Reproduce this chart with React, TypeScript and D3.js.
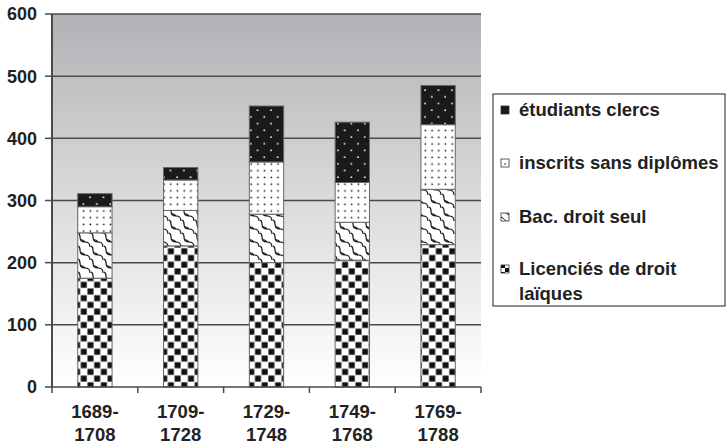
import React from "react";
import * as d3 from "d3";

const periods = ["1689-1708", "1709-1728", "1729-1748", "1749-1768", "1769-1788"];
const licencies = [175, 227, 200, 204, 229];
const bacSeul = [73, 57, 78, 61, 89];
const inscrits = [42, 49, 84, 64, 104];
const clercs = [21, 20, 90, 97, 63];
const yTicks = [0, 100, 200, 300, 400, 500, 600];

const seriesNames = ["Licenciés de droit laïques", "Bac. droit seul", "inscrits sans diplômes", "étudiants clercs"];
const seriesKeys = ["lic", "bac", "ins", "cle"];

const W = 726;
const H = 444;
const left = 52;
const right = 481;
const top = 14;
const bottom = 387;

export default function App() {
  const rows = periods.map((p, i) => ({
    period: p,
    lic: licencies[i],
    bac: bacSeul[i],
    ins: inscrits[i],
    cle: clercs[i],
  }));
  const stacked = d3.stack<any>().keys(seriesKeys)(rows);

  const x = d3.scaleBand().domain(periods).range([left, right]).paddingInner(0.6).paddingOuter(0.3);
  const cat = d3.scaleBand().domain(periods).range([left, right]).padding(0);
  const y = d3.scaleLinear().domain([0, 600]).range([bottom, top]);

  const fills: Record<string, string> = {
    lic: "url(#checker)",
    bac: "url(#wave)",
    ins: "url(#dots)",
    cle: "url(#darkdots)",
  };
  const legFills: Record<string, string> = {
    lic: "url(#legChecker)",
    bac: "url(#legWave)",
    ins: "url(#legDots)",
    cle: "url(#legDark)",
  };

  const font = "'Liberation Sans', Arial, sans-serif";
  const legendItems = [...seriesKeys].reverse().map((k) => ({
    key: k,
    name: seriesNames[seriesKeys.indexOf(k)],
  }));
  const legendY = [110, 163, 217, 269];

  return (
    <svg width={W} height={H} style={{ position: "absolute", left: 0, top: 0, background: "#fff" }} fontFamily={font}>
      <defs>
        <linearGradient id="bg" x1="0" y1="0" x2="0" y2="1">
          <stop offset="0" stopColor="#b1b2b5" />
          <stop offset="0.5" stopColor="#dadbdc" />
          <stop offset="1" stopColor="#ffffff" />
        </linearGradient>
        <pattern id="checker" width="13.4" height="13.4" patternUnits="userSpaceOnUse">
          <rect width="13.4" height="13.4" fill="#fff" />
          <rect x="0.4" y="0.4" width="6" height="6" fill="#111" />
          <rect x="7.1" y="7.1" width="6" height="6" fill="#111" />
        </pattern>
        <pattern id="wave" width="13" height="13" patternUnits="userSpaceOnUse">
          <rect width="13" height="13" fill="#fff" />
          <path d="M-3,-1 Q2,-2 2,3 T7,8 T12,13 T17,18" fill="none" stroke="#111" strokeWidth="1.2" />
          <path d="M10,-1 Q15,-2 15,3" fill="none" stroke="#111" strokeWidth="1.2" />
          <path d="M-3,12 Q2,11 2,16" fill="none" stroke="#111" strokeWidth="1.2" />
          <path d="M2,6 Q5,5 7,8" fill="none" stroke="#111" strokeWidth="1.2" />
        </pattern>
        <pattern id="dots" width="6.7" height="6.7" patternUnits="userSpaceOnUse">
          <rect width="6.7" height="6.7" fill="#fff" />
          <circle cx="3.3" cy="3.3" r="0.85" fill="#111" />
        </pattern>
        <pattern id="darkdots" width="13.4" height="13.4" patternUnits="userSpaceOnUse">
          <rect width="13.4" height="13.4" fill="#1a1a1a" />
          <circle cx="3" cy="3" r="0.9" fill="#fff" />
          <circle cx="9.7" cy="9.7" r="0.9" fill="#fff" />
        </pattern>
        <pattern id="legChecker" x="501" width="8" height="8" patternUnits="userSpaceOnUse">
          <rect width="8" height="8" fill="#fff" />
          <rect width="4" height="4" fill="#111" />
          <rect x="4" y="4" width="4" height="4" fill="#111" />
        </pattern>
        <pattern id="legWave" x="501" width="8" height="8" patternUnits="userSpaceOnUse">
          <rect width="8" height="8" fill="#fff" />
          <path d="M0,1 C3,2 4,5 8,7" fill="none" stroke="#111" strokeWidth="1" />
        </pattern>
        <pattern id="legDots" x="501" width="8" height="8" patternUnits="userSpaceOnUse">
          <rect width="8" height="8" fill="#fff" />
          <circle cx="4" cy="4" r="0.8" fill="#111" />
        </pattern>
        <pattern id="legDark" x="501" width="8" height="8" patternUnits="userSpaceOnUse">
          <rect width="8" height="8" fill="#1a1a1a" />
        </pattern>
      </defs>

      {/* plot background */}
      <rect x={left} y={top} width={right - left} height={bottom - top} fill="url(#bg)" />

      {/* grid lines */}
      {yTicks.map((t) => (
        <g key={t}>
          {t > 0 && <line x1={left} x2={right} y1={y(t)} y2={y(t)} stroke="#4a4a4a" strokeWidth={1.5} />}
          <line x1={left - 7} x2={left} y1={y(t)} y2={y(t)} stroke="#4a4a4a" strokeWidth={1.5} />
          <text x={37} y={y(t)} dy="0.36em" textAnchor="end" fontSize={18} fontWeight="bold" fill="#222">
            {t}
          </text>
        </g>
      ))}

      {/* bars */}
      {stacked.map((s) => (
        <g key={s.key}>
          {s.map((d, i) => (
            <rect
              key={i}
              x={x(periods[i])}
              y={y(d[1])}
              width={x.bandwidth()}
              height={y(d[0]) - y(d[1])}
              fill={fills[s.key]}
              stroke="#666"
              strokeWidth={1}
            />
          ))}
        </g>
      ))}

      {/* axes */}
      <line x1={left} x2={left} y1={top} y2={bottom} stroke="#4a4a4a" strokeWidth={2} />
      <line x1={left} x2={right} y1={bottom} y2={bottom} stroke="#4a4a4a" strokeWidth={1.5} />
      {[...periods.map((p) => cat(p) as number), right].map((v, i) => (
        <line key={i} x1={v} x2={v} y1={bottom} y2={bottom + 6} stroke="#4a4a4a" strokeWidth={1.5} />
      ))}
      {periods.map((p) => {
        const [a, b] = p.split("-");
        const cx = (x(p) as number) + x.bandwidth() / 2;
        return (
          <text key={p} x={cx} textAnchor="middle" fontSize={18.5} fontWeight="bold" fill="#222">
            <tspan x={cx} y={418}>{a}-</tspan>
            <tspan x={cx} y={441}>{b}</tspan>
          </text>
        );
      })}

      {/* legend */}
      <rect x={493} y={94} width={232} height={212} fill="#fff" stroke="#444" strokeWidth={1.2} />
      {legendItems.map((it, i) => {
        const yy = legendY[i];
        const words = it.key === "lic" ? ["Licenciés de droit", "laïques"] : [it.name];
        return (
          <g key={it.key}>
            <rect x={501} y={yy - 4} width={8} height={8} fill={legFills[it.key]} stroke="#333" strokeWidth={0.8} />
            <text fontSize={18.5} fontWeight="bold" fill="#222">
              {words.map((w, j) => (
                <tspan key={j} x={519} y={yy + 6 + j * 25}>
                  {w}
                </tspan>
              ))}
            </text>
          </g>
        );
      })}
    </svg>
  );
}
